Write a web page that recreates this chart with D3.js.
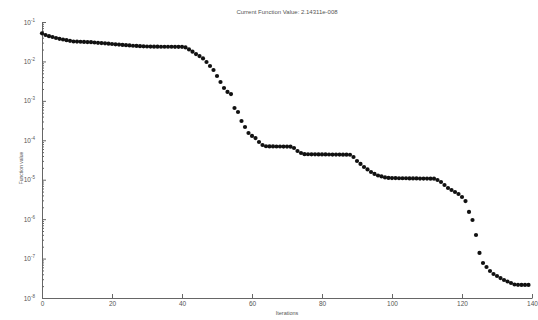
<!DOCTYPE html>
<html>
<head>
<meta charset="utf-8">
<script src="https://cdn.jsdelivr.net/npm/d3@7"></script>
<style>
  body { margin: 0; background: #fff; }
  text { font-family: "Liberation Sans", Arial, sans-serif; fill: #555; }
</style>
</head>
<body>
<div id="chart"></div>
<script>
const WIDTH = 538
const HEIGHT = 320

// Data
const titleText = "Current Function Value: 2.14311e-008"
const xLabel = "Iterations"
const yLabel = "Function value"
const xTicks = [0, 20, 40, 60, 80, 100, 120, 140]
const yExponents = [-8, -7, -6, -5, -4, -3, -2, -1]

const fvals = [
  0.0516, 0.0468, 0.0436, 0.0417, 0.0393, 0.0375, 0.0360, 0.0345, 0.0334, 0.0320,
  0.0318, 0.0316, 0.0313, 0.0310, 0.0307, 0.0302, 0.0297, 0.0292, 0.0287, 0.0282,
  0.0277, 0.0272, 0.0267, 0.0262, 0.0258, 0.0254, 0.0250, 0.0247, 0.0244, 0.0241,
  0.0239, 0.0238, 0.0237, 0.0237, 0.0236, 0.0236, 0.0236, 0.0236, 0.0235, 0.0235,
  0.0235, 0.0226, 0.0201, 0.0177, 0.0154, 0.0137, 0.0119, 0.00967, 0.00766, 0.00606,
  0.00427, 0.00301, 0.00212, 0.00168, 0.00149, 0.000659, 0.000522, 0.000308, 0.000217, 0.000153,
  0.000129, 0.000114, 0.0000905, 0.0000760, 0.0000705, 0.0000700, 0.0000698, 0.0000696, 0.0000695, 0.0000694,
  0.0000692, 0.0000688, 0.0000637, 0.0000535, 0.0000476, 0.0000445, 0.0000443, 0.0000441, 0.0000440, 0.0000439,
  0.0000438, 0.0000437, 0.0000436, 0.0000435, 0.0000434, 0.0000433, 0.0000432, 0.0000431, 0.0000430, 0.0000377,
  0.0000298, 0.0000251, 0.0000210, 0.0000182, 0.0000157, 0.0000140, 0.0000128, 0.0000121, 0.0000114, 0.0000111,
  0.0000110, 0.0000110, 0.0000109, 0.0000109, 0.0000109, 0.0000108, 0.0000108, 0.0000108, 0.0000107, 0.0000107,
  0.0000107, 0.0000106, 0.0000106, 0.00000984, 0.00000875, 0.00000735, 0.00000617, 0.00000548, 0.00000488, 0.00000434,
  0.00000364, 0.00000288, 0.00000152, 0.00000095, 0.000000396, 0.000000139, 0.0000000773, 6.12e-8, 4.84e-8, 4.06e-8,
  3.61e-8, 3.21e-8, 2.86e-8, 2.62e-8, 2.40e-8, 2.20e-8, 2.16e-8, 2.15e-8, 2.145e-8, 2.14311e-8
]
const iterations = fvals.map((d, i) => i)

const margin = { top: 22, right: 6, bottom: 22, left: 42 }

const svg = d3.select("#chart")
    .append("svg")
    .attr("width", WIDTH)
    .attr("height", HEIGHT)

const x = d3.scaleLinear()
    .domain([0, 140])
    .range([margin.left, WIDTH - margin.right])

const y = d3.scaleLog()
    .domain([1e-8, 1e-1])
    .range([HEIGHT - margin.bottom, margin.top])

// x axis, ticks inside
const xAxis = svg.append("g")
    .attr("transform", `translate(0,${HEIGHT - margin.bottom})`)
    .call(d3.axisBottom(x).tickValues(xTicks).tickSizeInner(-4).tickSizeOuter(0).tickPadding(5))
xAxis.select(".domain").attr("stroke", "#666")
xAxis.selectAll(".tick line").attr("stroke", "#666")
xAxis.selectAll(".tick text")
    .attr("font-size", 6.5)
    .attr("fill", "#555")
    .attr("dy", "0.5em")

// y axis, log ticks inside
const minor = []
yExponents.slice(0, -1).forEach(e => {
  for (let k = 2; k <= 9; k++) minor.push(k * Math.pow(10, e))
})
const yAxisMinor = svg.append("g")
    .attr("transform", `translate(${margin.left},0)`)
    .call(d3.axisLeft(y).tickValues(minor).tickSize(-2).tickFormat(""))
yAxisMinor.select(".domain").remove()
yAxisMinor.selectAll(".tick line").attr("stroke", "#666")

const yAxis = svg.append("g")
    .attr("transform", `translate(${margin.left},0)`)
    .call(d3.axisLeft(y)
        .tickValues(yExponents.map(e => Math.pow(10, e)))
        .tickSizeInner(-4).tickSizeOuter(0).tickFormat(""))
yAxis.select(".domain").attr("stroke", "#666")
yAxis.selectAll(".tick line").attr("stroke", "#666")

// labels 10^n
yAxis.selectAll(".tick").each(function (d, i) {
  const t = d3.select(this).append("text")
      .attr("x", -7)
      .attr("y", 2)
      .attr("text-anchor", "end")
      .attr("font-size", 6.5)
      .attr("fill", "#555")
  t.append("tspan").text("10")
  t.append("tspan")
      .attr("dy", -3)
      .attr("font-size", 4.5)
      .text(yExponents[i])
})

// points
svg.append("g")
    .selectAll("circle")
    .data(fvals)
    .enter()
    .append("circle")
    .attr("cx", (d, i) => x(iterations[i]))
    .attr("cy", d => y(d))
    .attr("r", 2.1)
    .attr("fill", "#111")

// title and axis labels
svg.append("text")
    .attr("x", (margin.left + WIDTH - margin.right) / 2)
    .attr("y", 14)
    .attr("text-anchor", "middle")
    .attr("font-size", 6)
    .text(titleText)

svg.append("text")
    .attr("x", (margin.left + WIDTH - margin.right) / 2)
    .attr("y", 315)
    .attr("text-anchor", "middle")
    .attr("font-size", 5.5)
    .text(xLabel)

svg.append("text")
    .attr("transform", "translate(23,168) rotate(-90)")
    .attr("text-anchor", "middle")
    .attr("font-size", 5)
    .text(yLabel)
</script>
</body>
</html>
